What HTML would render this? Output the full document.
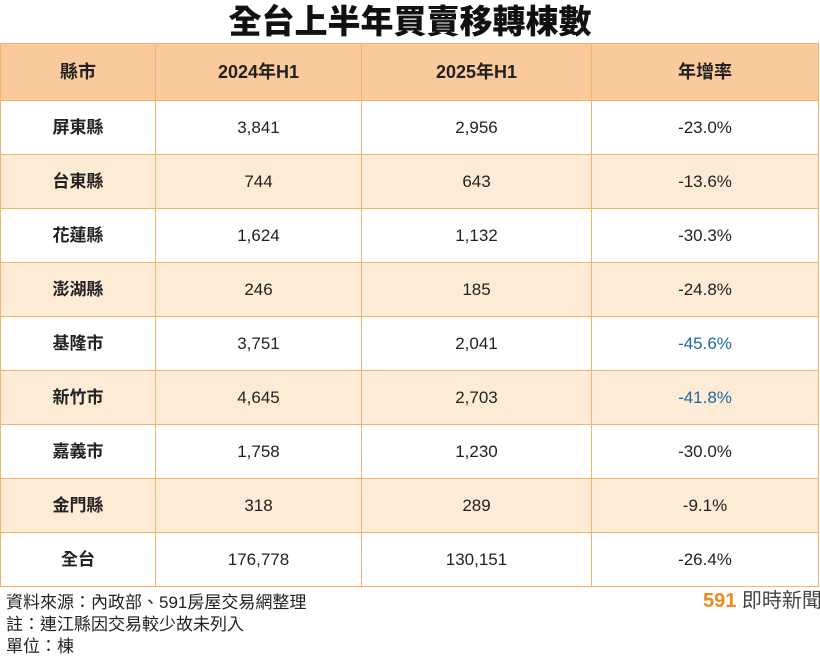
<!DOCTYPE html>
<html><head><meta charset="utf-8"><style>
body{margin:0;width:820px;height:667px;background:#fff;font-family:"Liberation Sans","Noto Sans CJK TC",sans-serif;position:relative;overflow:hidden}
.t{position:absolute;left:0;width:820px;top:0;text-align:center;font-size:33px;font-weight:900;line-height:44px;color:#111}
table{position:absolute;left:0;top:43px;border-collapse:collapse;table-layout:fixed}
td{border:1.5px solid #f3b36a;text-align:center;vertical-align:middle;font-size:17px;line-height:20px;color:#222;height:53px;padding:0}
tr.h td{background:#fbca9c;height:56px;font-weight:bold;font-size:18px}
tr.a td{background:#fdebd6}
td:first-child{font-weight:bold}
.b{color:#1a6aa8}
.f{position:absolute;left:6px;top:592px;font-size:17px;line-height:22px;color:#222}
.l{position:absolute;left:703px;top:584px;font-size:20px;color:#444;white-space:nowrap}
.l b{color:#f08a1c}
</style></head><body>
<div class="t">全台上半年買賣移轉棟數</div>
<table>
<colgroup><col style="width:155px"><col style="width:206px"><col style="width:230px"><col style="width:227px"></colgroup>
<tr class="h"><td>縣市</td><td>2024年H1</td><td>2025年H1</td><td>年增率</td></tr>
<tr><td>屏東縣</td><td>3,841</td><td>2,956</td><td>-23.0%</td></tr>
<tr class="a"><td>台東縣</td><td>744</td><td>643</td><td>-13.6%</td></tr>
<tr><td>花蓮縣</td><td>1,624</td><td>1,132</td><td>-30.3%</td></tr>
<tr class="a"><td>澎湖縣</td><td>246</td><td>185</td><td>-24.8%</td></tr>
<tr><td>基隆市</td><td>3,751</td><td>2,041</td><td class="b">-45.6%</td></tr>
<tr class="a"><td>新竹市</td><td>4,645</td><td>2,703</td><td class="b">-41.8%</td></tr>
<tr><td>嘉義市</td><td>1,758</td><td>1,230</td><td>-30.0%</td></tr>
<tr class="a"><td>金門縣</td><td>318</td><td>289</td><td>-9.1%</td></tr>
<tr><td>全台</td><td>176,778</td><td>130,151</td><td>-26.4%</td></tr>
</table>
<div class="f">資料來源：內政部、591房屋交易網整理<br>註：連江縣因交易較少故未列入<br>單位：棟</div>
<div class="l"><b>591</b> 即時新聞</div>
</body></html>
